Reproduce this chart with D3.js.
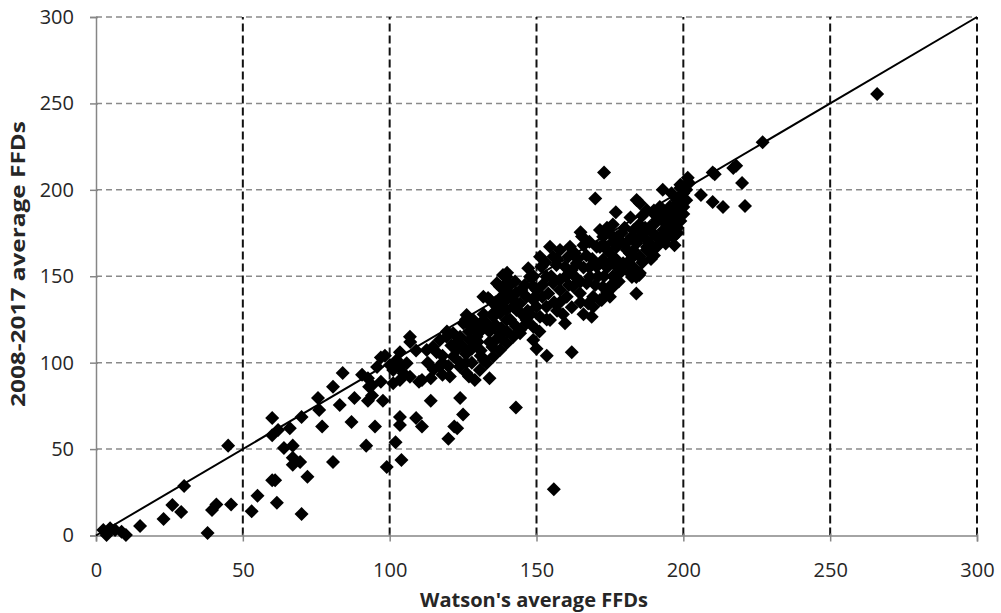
<!DOCTYPE html>
<html>
<head>
<meta charset="utf-8">
<script src="https://cdn.jsdelivr.net/npm/d3@7"></script>
<style>
  body { margin: 0; background: #fff; }
  text { font-family: "Open Sans", "Noto Sans", sans-serif; fill: #262626; }
</style>
</head>
<body>
<svg class="ffdChart"></svg>
<script>
// Watson's average FFDs (x) against 2008-2017 average FFDs (y)
var watsonFFD = [
  2.5, 3.6, 4.8, 6.5, 8.7, 10.2, 15, 23, 26, 29, 30, 38, 39.5, 41, 46, 45, 53, 55, 60, 60, 61, 61.6, 60, 62, 66, 67, 64, 67, 67, 69.5, 72, 70, 70, 76, 77, 75.6,
  80.7, 84, 83, 80.7, 87, 88, 90.6, 92.6, 93, 92.6, 94, 94, 92, 95, 95.7, 97, 98.4, 97, 97.7, 99, 102, 103.5, 103.5, 104, 107, 103.5, 109, 111, 114, 110, 111, 109,
  116, 118, 118, 120.5, 119.5, 121.6, 123, 122, 123, 125, 124, 120, 124, 126, 127, 129, 126, 127, 131, 131, 132, 135, 134, 136, 143, 150, 153.5, 153.5, 162, 155.9,
  100.1, 101.2, 102.4, 103.5, 104.7, 105.8, 106.9, 101.2, 103.5, 106.9, 112.6, 114.8, 117.1, 119.4,
  131.9, 134.2, 126.2, 128.5, 125.1, 136.4, 138.7, 139.8,
  137.6, 139.8, 143.2, 146.6, 148.9, 151.2, 153.4, 148.9, 142.1, 135.3, 133, 137.6, 144.4, 148.9,
  138.6, 140, 136.5, 137.5, 133.5, 142.7, 144.9, 147.2, 147.8, 146.6, 144.4, 142.1, 139.8, 137.6, 135.3, 133, 131.3, 129.6, 127.3, 125.1, 122.8, 121.7, 123.9, 126.2,
  130.7, 133, 135.3, 137.6, 139.8, 142.1, 144.4, 146.6, 150, 149.5, 148.9,
  154.6, 155.7, 156.8, 158, 151.2, 151.7, 161.4, 160.8, 159.7, 162, 163.7, 163.1, 153.4, 155.7, 158, 160.3, 162.5, 164.8, 167.1, 168.2, 169.3, 154.6, 159.7, 168.8,
  169.3, 167.6, 172.2, 173.9, 176.1, 175, 170.5, 172.7, 175, 177.3, 170.5, 172.7, 175, 171.6, 179.5, 181.8, 179.5, 182.4, 184.1, 186.4, 188.6, 190.9, 187.5, 185.2,
  188.6, 190.9, 193.2, 184.1, 185.2, 187.5, 189.8, 193.2, 195.4, 197.7, 200, 198.8, 196.6, 194.3, 177, 176, 173, 170, 165, 165.5, 184, 185, 184, 182.5,
  171.6, 172.6, 174, 176, 177.4, 178.4, 180.8, 182.8, 187.6, 171.6, 174, 172.6, 175, 177.4, 178.4, 179.4, 181.8, 185.2, 199, 199, 198, 196, 200, 201, 190, 191,
  193, 194, 195.5, 198, 199, 183, 185, 187.5, 188.6, 191, 192, 194, 196.5, 198,
  193, 201.5, 202, 206, 210, 210.7, 210, 213.5, 217, 218, 220, 221, 227, 266,
  121, 124, 127, 129, 128, 126, 130, 128, 131, 120, 118,
  132, 134, 136, 138, 136, 138, 140, 134, 138, 140, 141, 139,
  141, 143, 145, 147, 146, 149, 150, 148, 151, 143,
  152, 154, 156, 152, 157, 159, 155, 158, 153, 157, 160, 161, 158, 162,
  163, 165, 166, 164, 167, 166, 169, 168, 165, 166, 170, 171, 168,
  173, 174, 177, 176, 178, 173, 176, 179, 180, 174,
  181, 183, 185, 187, 182, 186, 189, 190, 181, 183, 186, 189, 190,
  192, 195, 197, 199, 194, 197, 200, 201, 199, 196,
  113, 115, 117, 114
];
var recentFFD = [
  3.2, 0.3, 4.2, 3.2, 2.2, 0.3, 5.5, 9.5, 17.6, 13.6, 28.6, 1.5, 14.7, 18, 18, 52, 14, 23, 68, 32, 32, 19, 58, 61, 62, 52, 50.6, 45, 41, 42.5, 34, 12.4, 68.5, 72.6, 63, 79.5,
  86, 94, 75.5, 42.5, 65.7, 79.5, 93, 91, 86, 78, 81, 87, 52, 63, 97.5, 103, 104, 89, 78, 39.6, 54, 68.5, 64, 43.7, 112, 106, 68, 63, 78, 89, 90, 107,
  106, 104, 93, 92, 118, 117, 112, 63, 62, 70, 79.5, 56, 100, 100, 92, 90, 125, 122, 123, 107, 101.5, 109, 91, 113, 74, 108, 104, 125, 106, 26.7,
  98.7, 95.8, 101.5, 97.7, 93.9, 99.6, 91.9, 88.1, 90, 115, 107.3, 109.2, 113.1, 115,
  138.2, 136.3, 127.6, 124.7, 122.8, 132.4, 144, 149.7,
  132.4, 124.7, 130.5, 124.7, 120.8, 126.6, 132.4, 136.3, 136.3, 128.6, 120.8, 117, 117, 113.1,
  150.7, 152, 146, 144, 137.4, 146.9, 142, 154.6, 149.7, 138.2, 134.3, 132.4, 130.5, 128.6, 126.6, 122.8, 118.9, 115, 113.1, 109.2, 107.3, 103.5, 97.7, 93.9,
  95.8, 99.6, 103.5, 107.3, 111.2, 115, 118.9, 122.8, 132.4, 138.2, 144,
  167, 161.3, 156.5, 165.2, 161.3, 155.5, 167.1, 161.3, 155.5, 153.6, 157.5, 163.3, 149.7, 145.9, 142, 138.2, 144, 140.1, 145.9, 149.7, 138.2, 124.7, 122.8, 126.6,
  132.4, 134.3, 136.3, 142, 145.9, 138.2, 155.5, 159.4, 163.3, 167.1, 167.1, 172.9, 174.8, 176.8, 157.5, 163.3, 169.1, 172.9, 169.1, 174.8, 178.7, 182.5, 165.2, 161.3,
  169.1, 172.9, 176.8, 194.1, 192.2, 188.3, 186.4, 188.3, 190.2, 194.1, 198, 184.5, 180.6, 176.8, 187, 180, 210, 195, 175.5, 173, 149.5, 150.7, 140, 149.5,
  136.3, 143.8, 140.3, 143.8, 172.7, 169.2, 165.2, 161.2, 166.9, 166.9, 165.2, 159.4, 157.7, 155.4, 151.9, 155.4, 151.9, 151.9, 201, 196, 192, 188, 190, 194, 188, 186,
  182, 180.6, 176.6, 178, 182, 176.6, 172.6, 171, 165, 167, 172.6, 169, 172.6, 175,
  200, 207, 204, 197, 210, 209, 193, 190, 212.6, 214, 204, 190.6, 227.6, 255.5,
  110, 115, 118, 120, 108, 105, 112, 100, 104, 98, 100,
  128, 118, 122, 120, 135, 138, 140, 112, 114, 118, 125, 135,
  145, 140, 128, 130, 145, 150, 142, 128, 118, 121,
  145, 140, 135, 138, 130, 128, 150, 148, 158, 160, 150, 145, 135, 132,
  150, 147, 155, 160, 162, 168, 160, 170, 135, 128, 145, 150, 155,
  150, 155, 160, 150, 147, 168, 170, 175, 178, 178,
  170, 165, 180, 178, 184, 185, 176, 180, 158, 155, 158, 160, 162,
  190, 185, 186, 187, 172, 168, 186, 200, 203, 198,
  100, 96, 98, 91
];
var tickValues = [0, 50, 100, 150, 200, 250, 300];
var lineEnds = [0, 300];

var width = 1001,
    height = 613;

var x = d3.scaleLinear().domain([0, 300]).range([96, 977]);
var y = d3.scaleLinear().domain([0, 300]).range([535.5, 17]);

var svg = d3.select(".ffdChart")
    .attr("width", width)
    .attr("height", height);

// horizontal grid (grey dashes)
svg.append("g").selectAll("line")
    .data(tickValues.slice(1))
  .enter().append("line")
    .attr("x1", x(0)).attr("x2", x(300))
    .attr("y1", function(d) { return y(d); })
    .attr("y2", function(d) { return y(d); })
    .attr("stroke", "#8a8a8a")
    .attr("stroke-width", 1.5)
    .attr("stroke-dasharray", "6,4");

// vertical grid (black dashes)
svg.append("g").selectAll("line")
    .data(tickValues.slice(1))
  .enter().append("line")
    .attr("y1", y(0)).attr("y2", y(300))
    .attr("x1", function(d) { return x(d); })
    .attr("x2", function(d) { return x(d); })
    .attr("stroke", "#111")
    .attr("stroke-width", 2)
    .attr("stroke-dasharray", "8,4");

// axes
var xAxis = svg.append("g")
    .attr("transform", "translate(0," + y(0) + ")")
    .call(d3.axisBottom(x).tickValues(tickValues).tickSize(6).tickPadding(21));
var yAxis = svg.append("g")
    .attr("transform", "translate(" + x(0) + ",0)")
    .call(d3.axisLeft(y).tickValues(tickValues).tickSize(6).tickPadding(16));

[xAxis, yAxis].forEach(function(a) {
  a.select(".domain").attr("stroke", "#868686").attr("stroke-width", 1.5);
  a.selectAll(".tick line").attr("stroke", "#868686").attr("stroke-width", 1.5);
  a.selectAll(".tick text")
      .style("font-family", "'Open Sans', sans-serif")
      .style("font-size", "20px")
      .attr("fill", "#262626");
});
xAxis.selectAll(".tick line").attr("y1", -2);
yAxis.selectAll(".tick line").attr("x1", 2);

// 1:1 line
svg.append("line")
    .attr("x1", x(lineEnds[0])).attr("y1", y(lineEnds[0]))
    .attr("x2", x(lineEnds[1])).attr("y2", y(lineEnds[1]))
    .attr("stroke", "#000")
    .attr("stroke-width", 2);

// points
var diamond = d3.symbol().type(d3.symbolDiamond2).size(125);
svg.append("g").selectAll("path")
    .data(watsonFFD)
  .enter().append("path")
    .attr("d", diamond)
    .attr("transform", function(d, i) { return "translate(" + x(d) + "," + y(recentFFD[i]) + ")"; })
    .attr("fill", "#000");

// axis titles
svg.append("text")
    .attr("x", 534)
    .attr("y", 607)
    .attr("text-anchor", "middle")
    .attr("textLength", 228)
    .attr("lengthAdjust", "spacingAndGlyphs")
    .style("font-size", "19px")
    .style("font-weight", "bold")
    .text("Watson's average FFDs");

svg.append("text")
    .attr("transform", "translate(25,264) rotate(-90)")
    .attr("text-anchor", "middle")
    .attr("textLength", 286)
    .attr("lengthAdjust", "spacingAndGlyphs")
    .style("font-size", "19px")
    .style("font-weight", "bold")
    .text("2008-2017 average FFDs");
</script>
</body>
</html>
